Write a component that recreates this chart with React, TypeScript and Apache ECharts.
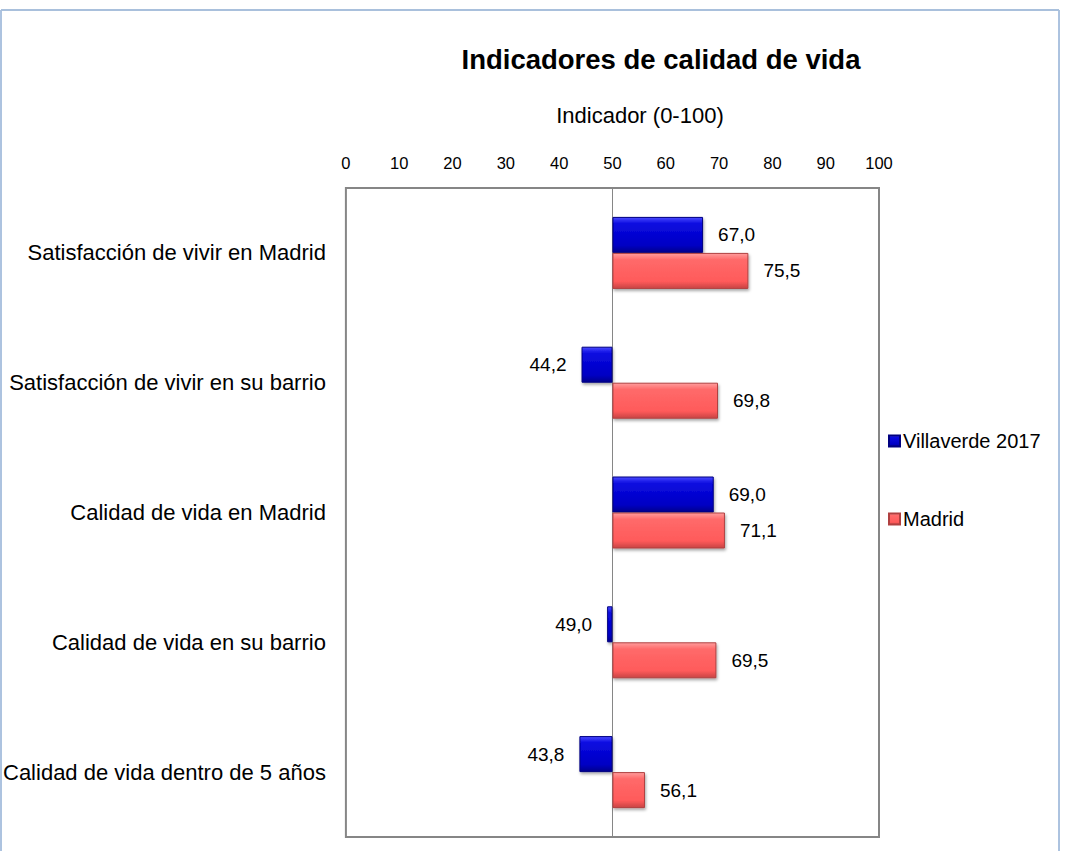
import React, { useEffect, useRef } from "react";
import * as echarts from "echarts";

const categories = [
  "Satisfacción de vivir en Madrid",
  "Satisfacción de vivir en su barrio",
  "Calidad de vida en Madrid",
  "Calidad de vida en su barrio",
  "Calidad de vida dentro de 5 años",
];
const villaverde = [67.0, 44.2, 69.0, 49.0, 43.8];
const madrid = [75.5, 69.8, 71.1, 69.5, 56.1];
const seriesNames = ["Villaverde 2017", "Madrid"];
const BASELINE = 50;
const AXIS_MIN = 0;
const AXIS_MAX = 100;
const AXIS_INTERVAL = 10;

const FONT = "Liberation Sans";

const fmt = (v: number) => v.toFixed(1).replace(".", ",");

function makeSeries(
  name: string,
  stack: string,
  values: number[],
  gradient: any,
  border: string,
  withMarkLine: boolean
) {
  const base = {
    type: "bar",
    name: name + "_base",
    stack,
    silent: true,
    barWidth: 36,
    barGap: "0%",
    data: values.map((v) => Math.min(v, BASELINE)),
    itemStyle: { color: "rgba(0,0,0,0)" },
    label: { show: false },
    z: 1,
  };
  const delta: any = {
    type: "bar",
    name,
    stack,
    barWidth: 36,
    barGap: "0%",
    z: 3,
    data: values.map((v) => ({
      value: Math.abs(v - BASELINE),
      label: { position: v >= BASELINE ? "right" : "left" },
    })),
    itemStyle: {
      color: gradient,
      borderColor: border,
      borderWidth: 1,
      shadowBlur: 3,
      shadowOffsetX: 1,
      shadowOffsetY: 2,
      shadowColor: "rgba(0,0,0,0.35)",
    },
    label: {
      show: true,
      distance: 15,
      fontFamily: FONT,
      fontSize: 19,
      color: "#000",
      formatter: (p: any) => fmt(values[p.dataIndex]),
    },
  };
  if (withMarkLine) {
    delta.markLine = {
      silent: true,
      symbol: ["none", "none"],
      label: { show: false },
      lineStyle: { color: "#868686", width: 1, type: "solid" },
      data: [{ xAxis: BASELINE }],
      z: 2,
    };
  }
  return [base, delta];
}

export default function App() {
  const ref = useRef<HTMLDivElement>(null);
  useEffect(() => {
    if (!ref.current) return;
    const chart = echarts.init(ref.current, undefined, { renderer: "svg" });
    const blue = new echarts.graphic.LinearGradient(0, 0, 0, 1, [
      { offset: 0, color: "#4a4aff" },
      { offset: 0.18, color: "#0a0ae0" },
      { offset: 0.8, color: "#0000c4" },
      { offset: 1, color: "#00008c" },
    ]);
    const red = new echarts.graphic.LinearGradient(0, 0, 0, 1, [
      { offset: 0, color: "#ff9c9c" },
      { offset: 0.18, color: "#ff6a6a" },
      { offset: 0.8, color: "#ff5a5a" },
      { offset: 1, color: "#c84444" },
    ]);
    chart.setOption({
      animation: false,
      backgroundColor: "#ffffff",
      title: {
        text: "Indicadores de calidad de vida",
        left: 656,
        top: 40,
        textAlign: "center",
        textStyle: {
          fontFamily: FONT,
          fontSize: 27.5,
          fontWeight: "bold",
          color: "#000",
        },
      },
      legend: {
        orient: "vertical",
        left: 883,
        top: 426,
        itemWidth: 11,
        itemHeight: 11,
        itemGap: 58,
        icon: "rect",
        data: seriesNames,
        textStyle: { fontFamily: FONT, fontSize: 20, color: "#000", padding: [0, 0, 0, -2] },
      },
      grid: {
        left: 345,
        right: 187,
        top: 188,
        bottom: 14,
        show: true,
        borderColor: "#868686",
        borderWidth: 2,
        backgroundColor: "transparent",
      },
      xAxis: {
        type: "value",
        position: "top",
        min: AXIS_MIN,
        max: AXIS_MAX,
        interval: AXIS_INTERVAL,
        name: "Indicador (0-100)",
        nameLocation: "middle",
        nameGap: 62,
        nameTextStyle: {
          fontFamily: FONT,
          fontSize: 22,
          color: "#000",
          padding: [0, 0, 0, 55],
        },
        axisLine: { show: false },
        axisTick: { show: false },
        splitLine: { show: false },
        axisLabel: { fontFamily: FONT, fontSize: 16.5, color: "#000", margin: 17 },
      },
      yAxis: {
        type: "category",
        inverse: true,
        data: categories,
        axisLine: { show: false },
        axisTick: { show: false },
        axisLabel: { fontFamily: FONT, fontSize: 22, color: "#000", margin: 20 },
      },
      graphic: [
        {
          type: "rect",
          shape: { x: 1, y: 10, width: 1058, height: 900 },
          style: { fill: "none", stroke: "#5b87c0", lineWidth: 1 },
          silent: true,
          z: 100,
        },
        {
          type: "line",
          shape: { x1: 1, y1: 10, x2: 1059, y2: 10 },
          style: { stroke: "#a9c0dc", lineWidth: 2 },
          silent: true,
          z: 101,
        },
      ],
      series: [
        ...makeSeries(seriesNames[0], "v", villaverde, blue, "#000080", true),
        ...makeSeries(seriesNames[1], "m", madrid, red, "#b04040", false),
      ],
    });
    return () => chart.dispose();
  }, []);
  return (
    <div
      ref={ref}
      style={{ position: "absolute", left: 0, top: 0, width: 1066, height: 851 }}
    />
  );
}
